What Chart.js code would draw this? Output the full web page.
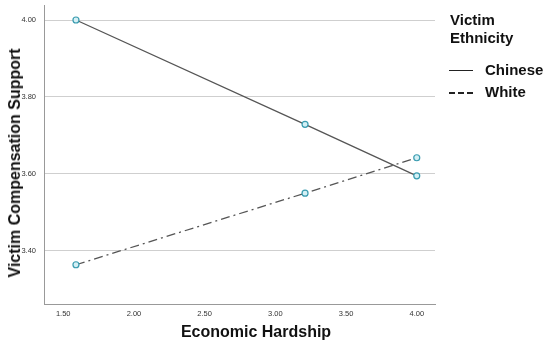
<!DOCTYPE html>
<html>
<head>
<meta charset="utf-8">
<script src="https://cdn.jsdelivr.net/npm/chart.js@4"></script>
<style>
  html, body { margin: 0; padding: 0; background: #fff; }
  #wrap { position: relative; width: 550px; height: 342px; font-family: "Liberation Sans", Arial, sans-serif; }
  .ttl { position: absolute; font-weight: bold; color: #111; white-space: nowrap; }
  #ytitle { left: 15px; top: 163px; font-size: 16px; transform: translate(-50%, -50%) rotate(-90deg); }
  #xtitle { left: 256px; top: 332px; font-size: 16px; transform: translate(-50%, -50%); }
  #legend { position: absolute; left: 450px; top: 11px; font-size: 15px; font-weight: bold; color: #111; line-height: 18px; }
  .item { position: relative; height: 22px; padding-left: 35px; }
  .sw { position: absolute; left: -1px; top: 9px; width: 24px; height: 0; }
</style>
</head>
<body>
<div id="wrap">
  <canvas id="mycanvas" width="550" height="342"></canvas>
  <div class="ttl" id="ytitle">Victim Compensation Support</div>
  <div class="ttl" id="xtitle">Economic Hardship</div>
  <div id="legend">
    <div style="margin-bottom:14px">Victim<br>Ethnicity</div>
    <div class="item"><span class="sw" style="border-top:1.5px solid #222"></span>Chinese</div>
    <div class="item"><span class="sw" style="border-top:2px dashed #222"></span>White</div>
  </div>
</div>
<script>
// values
var hardship = [1.59, 3.21, 4.00];
var chinese = [4.00, 3.729, 3.595];
var white = [3.364, 3.55, 3.642];
var xTicks = [1.5, 2.0, 2.5, 3.0, 3.5, 4.0];
var yTicks = [3.4, 3.6, 3.8, 4.0];

function pts(ys) {
	return hardship.map(function(x, i) { return {x: x, y: ys[i]}; });
}

var pointStyle = {
	pointRadius: 3,
	pointHoverRadius: 3,
	pointBorderWidth: 1.2,
	pointBorderColor: '#3a9cb0',
	pointBackgroundColor: '#d4f0f5'
};

var chartdata = {
	datasets: [
		Object.assign({
			label: 'Chinese',
			data: pts(chinese),
			borderColor: '#555',
			borderWidth: 1.3,
			tension: 0
		}, pointStyle),
		Object.assign({
			label: 'White',
			data: pts(white),
			borderColor: '#555',
			borderWidth: 1.3,
			borderDash: [9, 4, 2, 4],
			tension: 0
		}, pointStyle)
	]
};

var ctx = document.getElementById('mycanvas');

var LineGraph = new Chart(ctx, {
	type: 'line',
	data: chartdata,
	options: {
		responsive: false,
		animation: false,
		layout: { padding: { left: 0, top: 5, right: 115, bottom: 0 } },
		plugins: { legend: { display: false }, tooltip: { enabled: false } },
		scales: {
			x: {
				type: 'linear',
				min: 1.364,
				max: 4.129,
				afterBuildTicks: function(s) { s.ticks = xTicks.map(function(v) { return {value: v}; }); },
				afterFit: function(s) { s.height = 38; },
				grid: { display: false, drawTicks: false },
				border: { display: true, color: '#999', width: 1 },
				ticks: {
					padding: 5,
					color: '#333',
					font: { family: 'Liberation Sans', size: 7.5 },
					callback: function(v) { return Number(v).toFixed(2); }
				}
			},
			y: {
				min: 3.262,
				max: 4.039,
				afterBuildTicks: function(s) { s.ticks = yTicks.map(function(v) { return {value: v}; }); },
				afterFit: function(s) {
					// fixed axis width, no extra room for the top label
					s.width = 44;
					s.paddingTop = 0;
					s.paddingBottom = 0;
				},
				grid: { color: '#cfcfcf', drawTicks: false },
				border: { display: true, color: '#999', width: 1 },
				ticks: {
					padding: 8,
					color: '#333',
					font: { family: 'Liberation Sans', size: 7.5 },
					callback: function(v) { return Number(v).toFixed(2); }
				}
			}
		}
	}
});
</script>
</body>
</html>
